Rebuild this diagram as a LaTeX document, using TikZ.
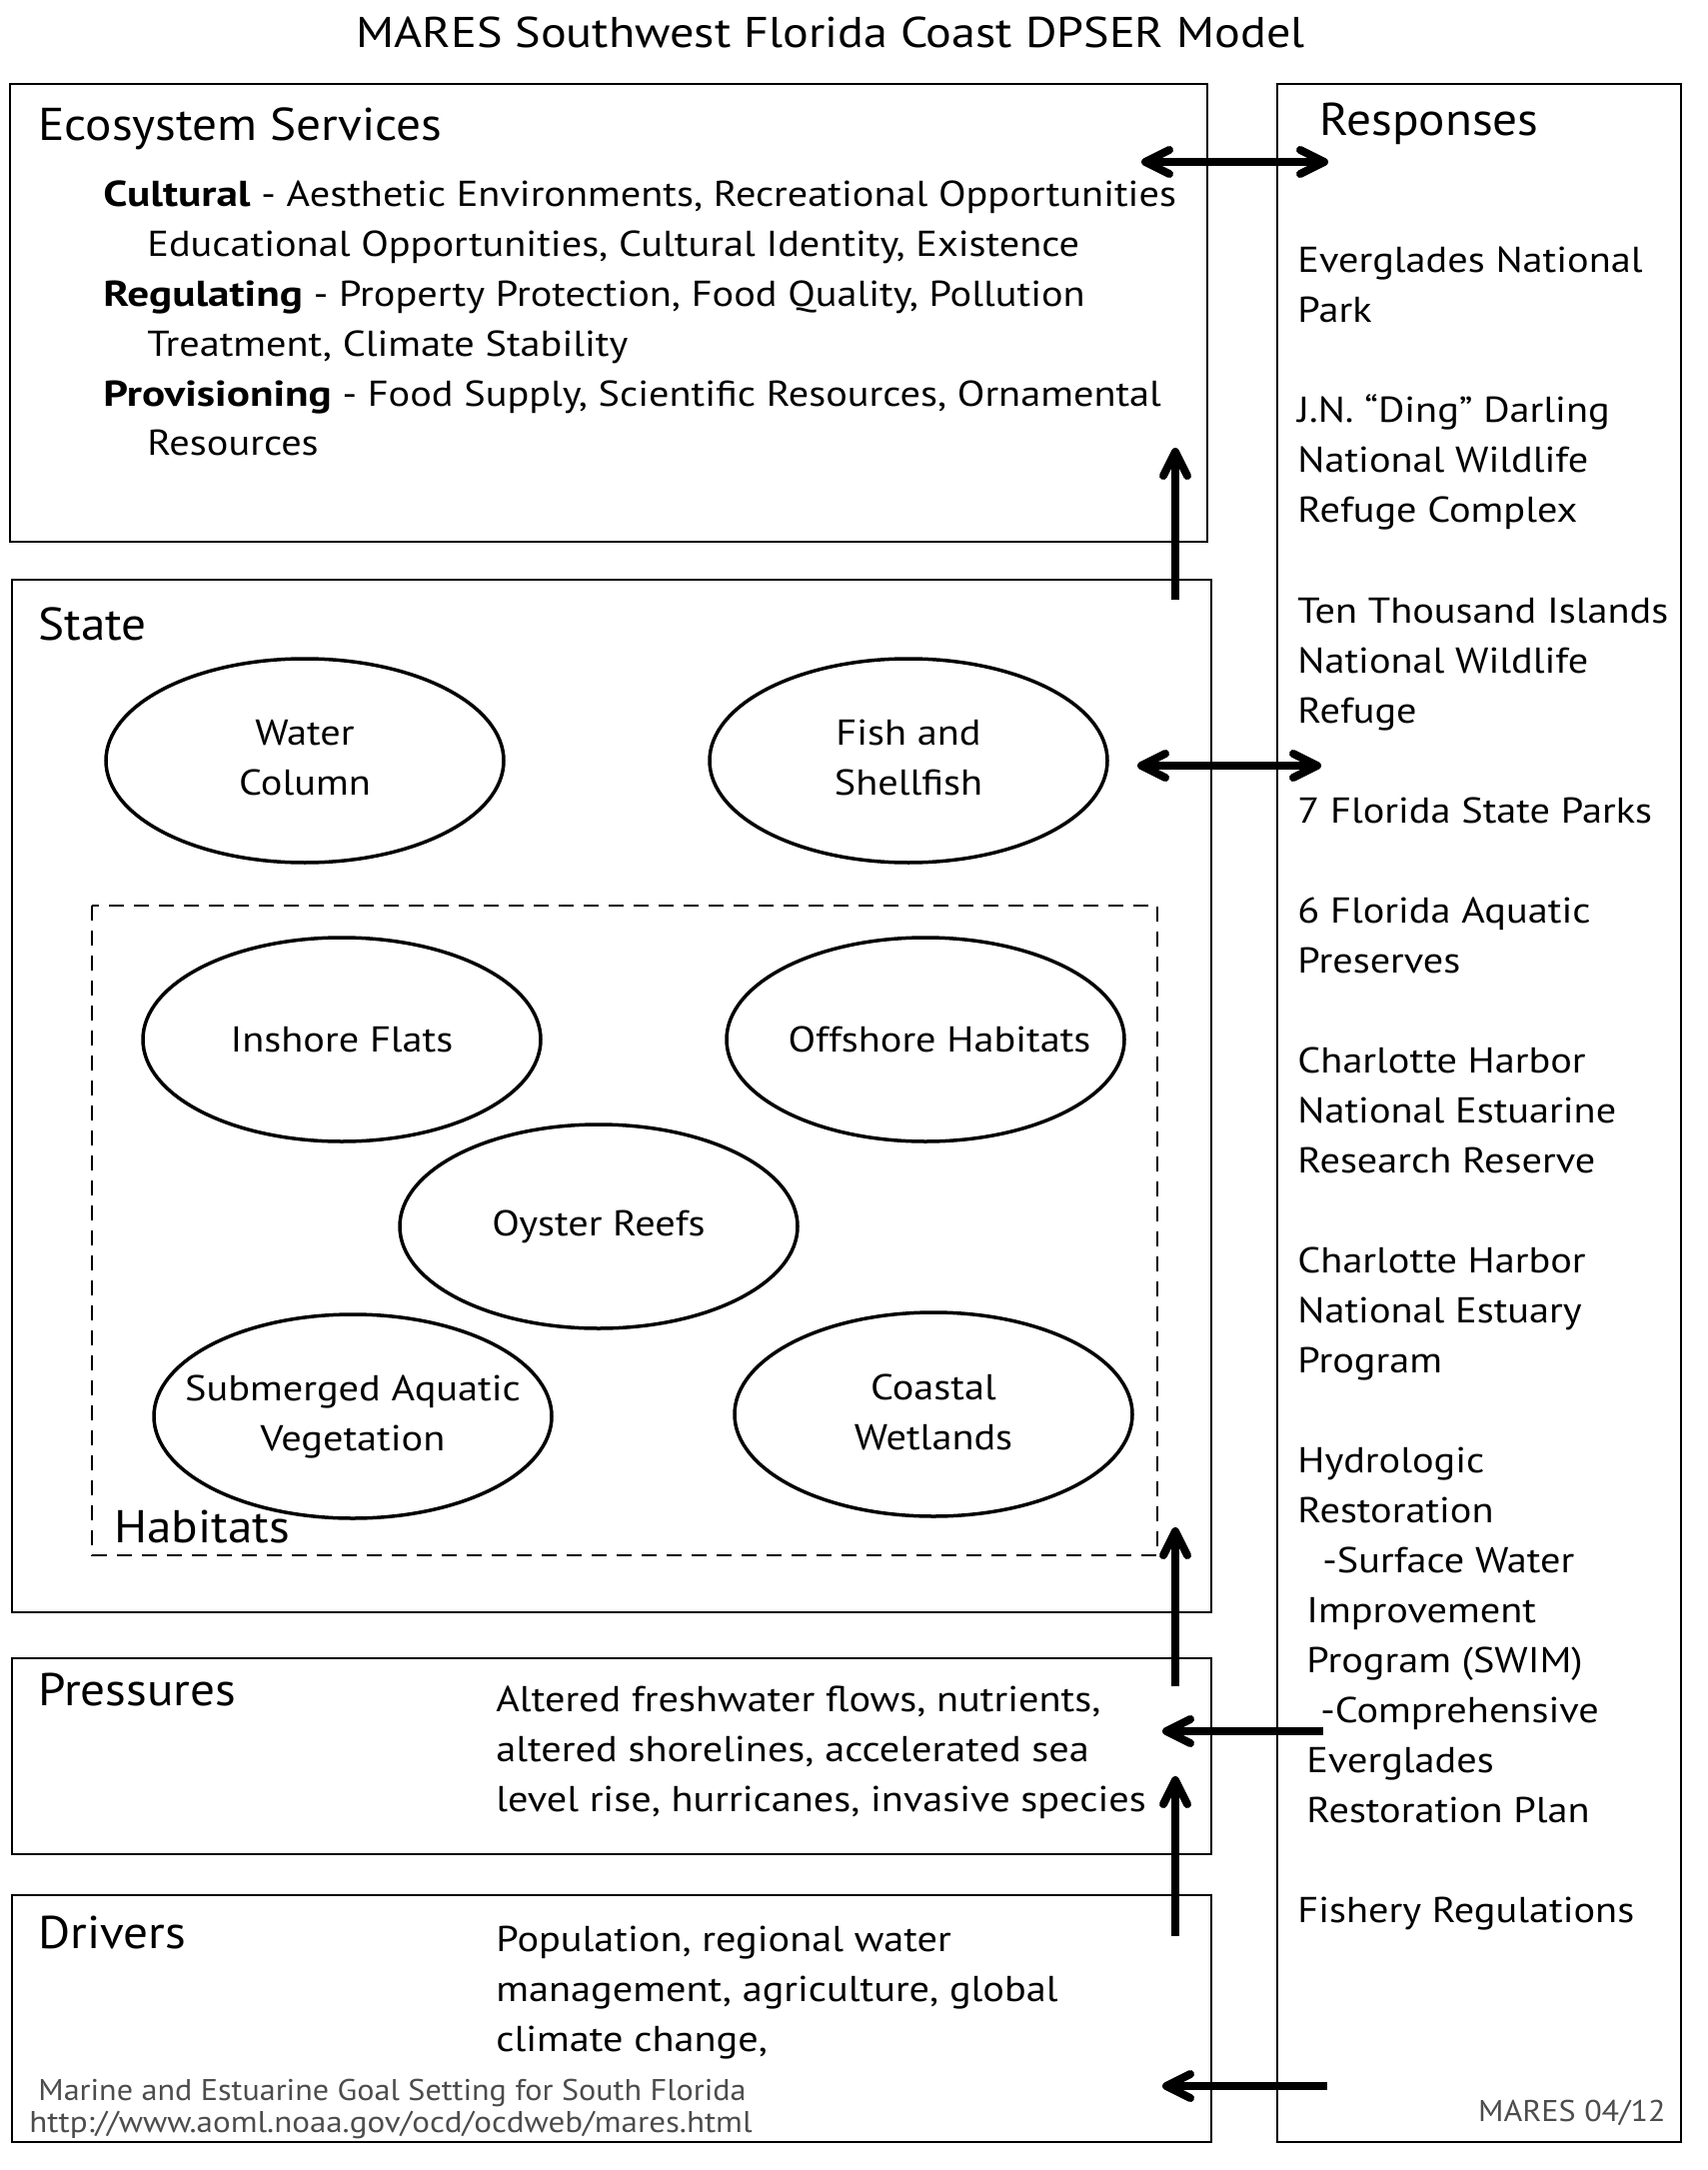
\documentclass[tikz,border=0pt]{standalone}
\usepackage{fontspec}
\setmainfont{PT Sans}
\newfontfamily\bodyf[FakeStretch=1.12,BoldFeatures={FakeStretch=1.2}]{PT Sans}
\newfontfamily\headf[FakeStretch=1.07]{PT Sans}
\newfontfamily\urlf[FakeStretch=1.10]{PT Sans}
\usetikzlibrary{shapes.geometric,arrows.meta}
\begin{document}
\begin{tikzpicture}[x=0.5pt,y=-0.5pt,
 box/.style={draw,line width=1pt,inner sep=0pt,anchor=north west},
 ell/.style={ellipse,draw,line width=1.75pt,minimum width=199pt,minimum height=102pt,inner sep=0pt},
 etxt/.style={align=center,inner sep=0pt,font=\bodyf\fontsize{18}{25}\selectfont},
 head/.style={font=\headf\fontsize{23}{28}\selectfont,anchor=base west,inner sep=0pt},
 txt/.style={font=\bodyf\fontsize{18}{25}\selectfont,anchor=base west,inner sep=0pt},
 foot/.style={font=\headf\fontsize{15}{18}\selectfont,text=black!70,anchor=base west,inner sep=0pt},
 tip/.tip={Straight Barb[length=12pt,width=12pt,round]},
 arr/.style={line width=4pt,-tip},
 darr/.style={line width=4pt,tip-tip}]
\useasboundingbox[fill=white] (0,0) rectangle (1708,2171);

% title
\node[font=\bodyf\fontsize{21.5}{26}\selectfont,anchor=base,inner sep=0pt] (title) at (831,48) {MARES Southwest Florida Coast DPSER Model};

% boxes
\node[box,minimum width=599pt,minimum height=229pt] (es) at (9,83) {};
\node[box,minimum width=202pt,minimum height=1029.5pt] (resp) at (1277,83) {};
\node[box,minimum width=600pt,minimum height=516.5pt] (state) at (11,579) {};
\node[box,minimum width=600pt,minimum height=98pt] (press) at (11,1658) {};
\node[box,minimum width=600pt,minimum height=123.5pt] (driv) at (11,1895) {};
\node[box,draw=none,minimum width=532pt,minimum height=324pt] (hab) at (92,906) {};
\draw[line width=0.8pt,dash pattern=on 7.5pt off 5pt] (hab.north west) rectangle (hab.south east);

% Ecosystem services
\node[head] (esh) at (38,141) {Ecosystem Services};
\node[txt] (es1) at (103,207) {\textbf{Cultural} - Aesthetic Environments, Recreational Opportunities};
\node[txt] (es2) at (147,257) {Educational Opportunities, Cultural Identity, Existence};
\node[txt] (es3) at (103,307) {\textbf{Regulating} - Property Protection, Food Quality, Pollution};
\node[txt] (es4) at (147,357) {Treatment, Climate Stability};
\node[txt] (es5) at (103,407) {\textbf{Provisioning} - Food Supply, Scientific Resources, Ornamental};
\node[txt] (es6) at (147,456) {Resources};

% Responses
\node[head] (rh) at (1320,136) {Responses};
\node[txt] (r1) at (1298,273) {Everglades National};
\node[txt] (r2) at (1298,323) {Park};
\node[txt] (r3) at (1298,423) {J.N. “Ding” Darling};
\node[txt] (r4) at (1298,473) {National Wildlife};
\node[txt] (r5) at (1298,523) {Refuge Complex};
\node[txt] (r6) at (1298,623) {Ten Thousand Islands};
\node[txt] (r7) at (1298,673) {National Wildlife};
\node[txt] (r8) at (1298,723) {Refuge};
\node[txt] (r9) at (1298,823) {7 Florida State Parks};
\node[txt] (r10) at (1298,923) {6 Florida Aquatic};
\node[txt] (r11) at (1298,973) {Preserves};
\node[txt] (r12) at (1298,1073) {Charlotte Harbor};
\node[txt] (r13) at (1298,1123) {National Estuarine};
\node[txt] (r14) at (1298,1173) {Research Reserve};
\node[txt] (r15) at (1298,1273) {Charlotte Harbor};
\node[txt] (r16) at (1298,1323) {National Estuary};
\node[txt] (r17) at (1298,1373) {Program};
\node[txt] (r18) at (1298,1473) {Hydrologic};
\node[txt] (r19) at (1298,1523) {Restoration};
\node[txt] (r20) at (1323,1573) {-Surface Water};
\node[txt] (r21) at (1307,1623) {Improvement};
\node[txt] (r22) at (1307,1673) {Program (SWIM)};
\node[txt] (r23) at (1321,1723) {-Comprehensive};
\node[txt] (r24) at (1307,1773) {Everglades};
\node[txt] (r25) at (1307,1823) {Restoration Plan};
\node[txt] (r26) at (1298,1923) {Fishery Regulations};

% State
\node[head] (sth) at (38,640) {State};
\node[ell] (wc) at (305,761) {};
\node[etxt] (wct) at (305,758) {Water\\Column};
\node[ell] (fs) at (909,761) {};
\node[etxt] (fst) at (909,758) {Fish and\\Shellfish};
\node[ell] (inf) at (342,1040) {};
\node[etxt] (inft) at (342,1040) {Inshore Flats};
\node[ell] (off) at (926,1040) {};
\node[etxt] (offt) at (940,1040) {Offshore Habitats};
\node[ell] (oys) at (599,1227) {};
\node[etxt] (oyst) at (599,1227) {Oyster Reefs};
\node[ell] (sav) at (353,1417) {};
\node[etxt] (savt) at (353,1417) {Submerged Aquatic\\Vegetation};
\node[ell] (cw) at (934,1415) {};
\node[etxt] (cwt) at (934,1413) {Coastal\\Wetlands};
\node[head] (habh) at (114,1543) {Habitats};

% Pressures
\node[head] (ph) at (38,1706) {Pressures};
\node[txt] (p1) at (496,1712) {Altered freshwater flows, nutrients,};
\node[txt] (p2) at (496,1762) {altered shorelines, accelerated sea};
\node[txt] (p3) at (496,1812) {level rise, hurricanes, invasive species};

% Drivers
\node[head] (dh) at (38,1949) {Drivers};
\node[txt] (d1) at (496,1952) {Population, regional water};
\node[txt] (d2) at (496,2002) {management, agriculture, global};
\node[txt] (d3) at (496,2052) {climate change,};

% footer
\node[foot] (f1) at (38,2101) {Marine and Estuarine Goal Setting for South Florida};
\node[foot,font=\urlf\fontsize{15}{18}\selectfont] (f2) at (29,2133) {http://www.aoml.noaa.gov/ocd/ocdweb/mares.html};
\node[foot,anchor=base east] (f3) at (1667,2122) {MARES 04/12};

% arrow coordinates
\coordinate (a1s) at (1142,162); \coordinate (a1e) at (1329,162);
\coordinate (a2s) at (1176,600); \coordinate (a2e) at (1176,448);
\coordinate (a3s) at (1138,766); \coordinate (a3e) at (1322,766);
\coordinate (a4s) at (1176,1687); \coordinate (a4e) at (1176,1528);
\coordinate (a5s) at (1324,1732); \coordinate (a5e) at (1163,1732);
\coordinate (a6s) at (1176,1937); \coordinate (a6e) at (1176,1777);
\coordinate (a7s) at (1328,2087); \coordinate (a7e) at (1163,2087);

\draw[darr] (a1s) -- (a1e);
\draw[arr] (a2s) -- (a2e);
\draw[darr] (a3s) -- (a3e);
\draw[arr] (a4s) -- (a4e);
\draw[arr] (a5s) -- (a5e);
\draw[arr] (a6s) -- (a6e);
\draw[arr] (a7s) -- (a7e);
\end{tikzpicture}
\end{document}
